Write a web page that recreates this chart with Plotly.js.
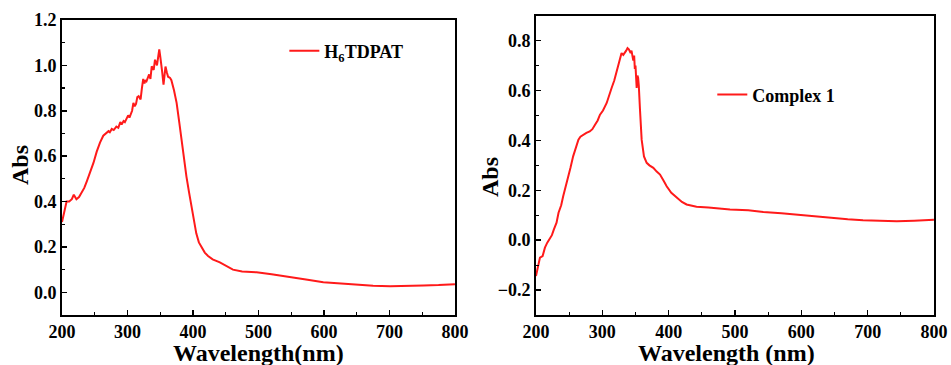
<!DOCTYPE html>
<html><head><meta charset="utf-8">
<script src="https://cdn.plot.ly/plotly-3.0.1.min.js"></script>
<style>body{margin:0;background:#fff}#c{width:951px;height:365px}</style>
</head><body><div id="c"></div>
<script>
// H6TDPAT spectrum (left)
const wlA = [200,204,207,211,215,218,222,226,230,234,238,243,248,253,258,263,268,271,273,276,279,283,286,289,291,294,296,299,301,303,305,307,309,311,313,315,317,320,322,324,326,327,329,331,333,335,337,340,342,345,348.5,350,351,353,355,357,358,360,362,365,367,371,375,379,383,387,390,394,398,402,405,409,413,418,423,430,441,450,461,475,497,520,548,575,599,625,650,675,701,725,752,775,800];
const absA = [0.31,0.36,0.40,0.40,0.41,0.43,0.41,0.42,0.44,0.46,0.49,0.53,0.57,0.62,0.66,0.69,0.70,0.71,0.705,0.72,0.715,0.73,0.725,0.75,0.74,0.755,0.75,0.77,0.78,0.77,0.79,0.80,0.835,0.82,0.83,0.86,0.864,0.85,0.90,0.94,0.92,0.935,0.93,0.95,0.96,0.94,0.996,0.98,1.025,1.0,1.07,1.04,1.02,0.97,0.915,0.96,0.995,0.97,0.95,0.945,0.935,0.89,0.835,0.75,0.66,0.58,0.51,0.44,0.38,0.31,0.26,0.22,0.198,0.175,0.16,0.145,0.132,0.118,0.10,0.092,0.088,0.08,0.066,0.055,0.044,0.038,0.033,0.029,0.027,0.027,0.03,0.032,0.036];
// Complex 1 spectrum (right)
const wlB = [200,202,204,206,210,213.5,217,221,224,227,231,234,238,241,245,249,252,256,260,264,267,271,276,281,285,289,293,296.5,301,306.6,310,314,318,321.6,324,326.6,329,331.6,334,336,338,340,342.7,344,346.7,348,349,350,351.8,353,354,355,356.8,359.3,362.8,366.9,371,376.9,382,387,392,397,404,412,420,427,435,442,460,492.5,520,542.7,570,593,620,643,670,693,720,744,770,800];
const absB = [-0.144,-0.12,-0.104,-0.07,-0.064,-0.03,-0.01,0.008,0.02,0.043,0.07,0.11,0.14,0.176,0.215,0.256,0.29,0.336,0.37,0.403,0.415,0.423,0.43,0.436,0.445,0.463,0.48,0.503,0.52,0.55,0.58,0.61,0.64,0.676,0.70,0.736,0.75,0.743,0.75,0.76,0.77,0.765,0.75,0.76,0.72,0.74,0.687,0.70,0.61,0.66,0.65,0.62,0.523,0.403,0.336,0.31,0.30,0.29,0.275,0.263,0.24,0.216,0.19,0.17,0.153,0.143,0.137,0.134,0.131,0.123,0.12,0.113,0.108,0.102,0.095,0.089,0.084,0.08,0.077,0.076,0.078,0.082];
const xTicks = [200,300,400,500,600,700,800];
const nameA = 'H<sub>6</sub>TDPAT';
const nameB = 'Complex 1';
const yTitle = 'Abs';
const xTitleA = 'Wavelength(nm)';
const xTitleB = 'Wavelength (nm)';

const red = '#ff1a1a';
const fam = 'Liberation Serif, Times New Roman, serif';
const tf = {family:fam, size:18, color:'#000', weight:'bold'};
const titf = {family:fam, size:24, color:'#000', weight:'bold'};
function xax(domain, anchor){
  return {domain:domain, anchor:anchor, range:[200,800], tickvals:xTicks, ticks:'inside', ticklen:5, tickwidth:1.5, tickcolor:'#000',
    minor:{dtick:50, ticks:'inside', ticklen:3, tickwidth:1.2, tickcolor:'#000'},
    showline:true, linewidth:1.8, linecolor:'#000', mirror:true, showgrid:false, zeroline:false,
    tickfont:tf};
}
function yax(domain, anchor, range){
  return {domain:domain, anchor:anchor, range:range, dtick:0.2, tick0:0, tickformat:'.1f', ticks:'inside', ticklen:5, tickwidth:1.5, tickcolor:'#000',
    minor:{dtick:0.1, ticks:'inside', ticklen:3, tickwidth:1.2, tickcolor:'#000'},
    showline:true, linewidth:1.8, linecolor:'#000', mirror:true, showgrid:false, zeroline:false,
    tickfont:tf};
}
const data = [
  {x:wlA, y:absA, type:'scatter', mode:'lines', name:nameA, line:{color:red, width:2}, xaxis:'x', yaxis:'y', legend:'legend'},
  {x:wlB, y:absB, type:'scatter', mode:'lines', name:nameB, line:{color:red, width:2}, xaxis:'x2', yaxis:'y2', legend:'legend2'}
];
const lf = {family:fam, size:18, color:'#000', weight:'bold'};
function ann(text, px, py, angle){
  return {text:text, xref:'paper', yref:'paper', x:px/951, y:1-py/365, xanchor:'center', yanchor:'middle', textangle:angle, showarrow:false, font:titf};
}
const layout = {
  width:951, height:365, margin:{l:0,r:0,t:0,b:0}, paper_bgcolor:'#fff', plot_bgcolor:'#fff',
  xaxis: xax([0.0652,0.4784],'y'),
  yaxis: yax([0.137,0.9452],'x',[-0.1,1.2]),
  xaxis2: xax([0.5636,0.9821],'y2'),
  yaxis2: yax([0.137,0.957],'x2',[-0.3,0.9]),
  annotations:[
    ann(yTitle, 20, 165, -90),
    ann(yTitle, 490, 177, -90),
    ann(xTitleA, 258, 353, 0),
    ann(xTitleB, 726, 353, 0)
  ],
  legend:{x:0.299, y:0.86, xanchor:'left', yanchor:'middle', font:lf, bgcolor:'rgba(0,0,0,0)', itemwidth:30},
  legend2:{x:0.749, y:0.74, xanchor:'left', yanchor:'middle', font:lf, bgcolor:'rgba(0,0,0,0)', itemwidth:30},
  showlegend:true
};
Plotly.newPlot('c', data, layout, {displayModeBar:false, staticPlot:true});
</script></body></html>
